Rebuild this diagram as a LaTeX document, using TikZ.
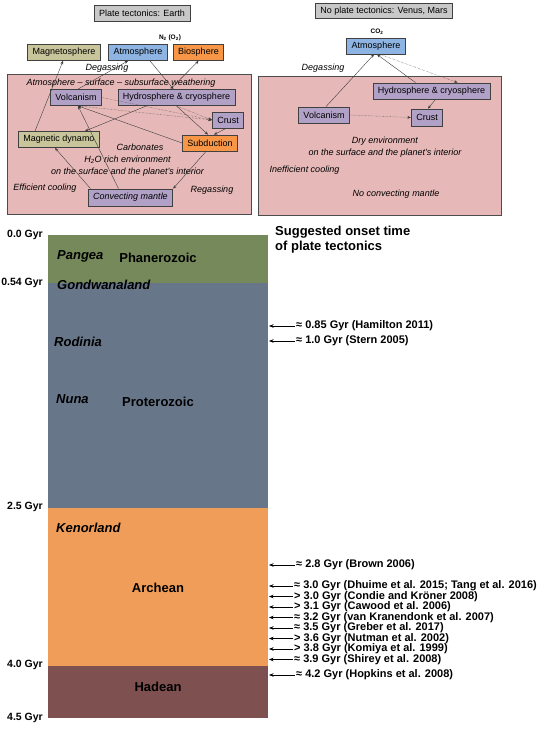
\documentclass[tikz,border=0pt]{standalone}
\usepackage{fontspec}
\setmainfont{Liberation Sans}
\usetikzlibrary{arrows.meta,positioning}
\definecolor{titlegray}{RGB}{200,200,200}
\definecolor{khaki}{RGB}{201,197,155}
\definecolor{skyblue}{RGB}{141,180,226}
\definecolor{bioorange}{RGB}{247,150,70}
\definecolor{lilac}{RGB}{178,161,199}
\definecolor{envpink}{RGB}{230,185,184}
\definecolor{phangreen}{RGB}{118,137,90}
\definecolor{protslate}{RGB}{104,118,137}
\definecolor{archorange}{RGB}{239,157,88}
\definecolor{hadbrown}{RGB}{126,80,80}
\definecolor{linkgray}{RGB}{60,60,60}
\tikzset{
    line/.style={
        line width=0.4pt, draw=linkgray
    },
    arrow/.style={
        line,
        -{Stealth[length=3.5pt, width=2.8pt]}
    },
    dotarrow/.style={
        arrow,
        densely dotted
    },
    box/.style={
        draw=black!75, line width=0.8pt, inner xsep=5pt, inner ysep=0pt,
        minimum height=16pt, font=\fontsize{9}{10}\selectfont
    },
    envbox/.style={
        draw=black!70, line width=0.8pt, fill=envpink
    },
    note/.style={
        font=\fontsize{9}{12}\selectfont\itshape, inner sep=1pt
    },
    gyr/.style={
        font=\fontsize{10.5}{12}\selectfont\bfseries, anchor=east, inner sep=1pt
    },
    era/.style={
        font=\fontsize{13}{14}\selectfont\bfseries
    },
    land/.style={
        font=\fontsize{13}{14}\selectfont\bfseries\itshape, anchor=west, inner sep=1pt
    },
    onset/.style={
        font=\fontsize{11}{12}\selectfont\bfseries, anchor=west, inner sep=1pt
    },
    onsetarrow/.style={
        line width=0.6pt, draw=black,
        -{Stealth[length=4.5pt, width=3.5pt]}
    }
}

\begin{document}
\begin{tikzpicture}[x=1pt, y=-1pt]
    \useasboundingbox (0, 0) rectangle (545, 730);
    % Plate tectonics (left panel):
    \node [box, fill=titlegray] (ptitle) at (142, 13) {Plate tectonics: Earth};
    \node [font=\fontsize{6.5}{7}\selectfont\bfseries, inner sep=0pt] (nitro) at (170, 38) {N\textsubscript{2} (O\textsubscript{2})};
    \node [box, fill=khaki] (magsph) at (64, 52.5) {Magnetosphere};
    \node [box, fill=skyblue] (atm) at (138, 52.5) {Atmosphere};
    \node [box, fill=bioorange] (bio) at (198.5, 52.5) {Biosphere};
    \node [note] (degas) at (107, 68) {Degassing};
    \draw [envbox] (7, 74) rectangle (251, 214);
    \node [note] (weather) at (121, 83) {Atmosphere -- surface -- subsurface weathering};
    \node [box, fill=lilac] (volc) at (76, 97.5) {Volcanism};
    \node [box, fill=lilac] (hydro) at (176.5, 97.5) {Hydrosphere \& cryosphere};
    \node [box, fill=lilac] (crust) at (228, 120) {Crust};
    \node [box, fill=khaki] (dynamo) at (59, 139.5) {Magnetic dynamo};
    \node [box, fill=bioorange] (subd) at (210, 143) {Subduction};
    \node [note] (carb) at (140, 147) {Carbonates};
    \node [note, align=center] (wet) at (127.5, 166.5) {H\textsubscript{2}O rich environment\\on the surface and the planet's interior};
    \node [note] (effcool) at (45, 188) {Efficient cooling};
    \node [note] (regas) at (212, 190) {Regassing};
    \node [box, fill=lilac, font=\fontsize{9}{10}\selectfont\itshape, minimum height=17pt] (mantle) at (130.5, 197.5) {Convecting mantle};
    % Links:
    \draw [arrow] ([xshift=-24pt]dynamo.north) -- ([xshift=-1pt]magsph.south);
    \draw [arrow] ([xshift=2pt]volc.north) -- ([xshift=-10pt]atm.south);
    \draw [arrow] ([xshift=12pt]atm.south) -- ([xshift=-3pt]hydro.north);
    \draw [arrow] ([xshift=-6pt]hydro.north) -- (bio.south);
    \draw [arrow] ([xshift=-12pt]mantle.north) -- ([xshift=2pt]volc.south);
    \draw [arrow] ([xshift=-40pt]mantle.north) -- ([xshift=-4pt]dynamo.south);
    \draw [arrow] ([xshift=-30pt]hydro.south) -- ([xshift=26pt]dynamo.north);
    \draw [arrow] (subd.west) -- ([xshift=2pt]volc.south);
    \draw [dotarrow] ([xshift=2pt]volc.south) -- (crust.west);
    \draw [dotarrow] (volc.east) -- (crust.west);
    \draw [dotarrow] (hydro.south) -- (crust.west);
    \draw [arrow] (hydro.south) -- ([xshift=-2pt]subd.north);
    \draw [arrow] ([xshift=-2pt]crust.south) -- ([xshift=4pt]subd.north);
    \draw [arrow] ([xshift=-4pt]subd.south) -- (mantle.north east);
    % No plate tectonics (right panel):
    \node [box, fill=titlegray, minimum height=15pt] (ntitle) at (384, 11) {No plate tectonics: Venus, Mars};
    \node [font=\fontsize{6.5}{7}\selectfont\bfseries, inner sep=0pt] (carbon) at (377, 32) {CO\textsubscript{2}};
    \node [box, fill=skyblue] (ratm) at (376, 46) {Atmosphere};
    \node [note] (rdegas) at (323, 68) {Degassing};
    \draw [envbox] (258, 76) rectangle (501, 215);
    \node [box, fill=lilac] (rhydro) at (431.5, 91) {Hydrosphere \& cryosphere};
    \node [box, fill=lilac] (rvolc) at (324, 115) {Volcanism};
    \node [box, fill=lilac, minimum height=17pt] (rcrust) at (427, 117.5) {Crust};
    \node [note, align=center] (dry) at (385, 147.5) {Dry environment\\on the surface and the planet's interior};
    \node [note] (ineff) at (304.5, 170) {Inefficient cooling};
    \node [note] (nomantle) at (396, 194) {No convecting mantle};
    % Links:
    \draw [arrow] ([xshift=2pt]rvolc.north) -- ([xshift=-2pt]ratm.south);
    \draw [arrow] ([xshift=-16pt]rhydro.north) -- ([xshift=1pt]ratm.south);
    \draw [dotarrow] ([xshift=4pt]ratm.south) -- ([xshift=26pt]rhydro.north);
    \draw [arrow] ([xshift=4pt]rhydro.south) -- ([xshift=1pt]rcrust.north);
    \draw [dotarrow] (rvolc.east) -- (rcrust.west);
    % Geological time scale:
    \fill [phangreen] (48, 235) rectangle (268, 283);
    \fill [protslate] (48, 283) rectangle (268, 508);
    \fill [archorange] (48, 508) rectangle (268, 666);
    \fill [hadbrown] (48, 666) rectangle (268, 718);
    \node [gyr] (g0) at (44, 235) {0.0 Gyr};
    \node [gyr] (g054) at (44, 283) {0.54 Gyr};
    \node [gyr] (g25) at (44, 507) {2.5 Gyr};
    \node [gyr] (g40) at (44, 665) {4.0 Gyr};
    \node [gyr] (g45) at (44, 718) {4.5 Gyr};
    \node [land] (pangea) at (56, 256) {Pangea};
    \node [era] (phan) at (158, 258) {Phanerozoic};
    \node [land] (gondwana) at (56, 285) {Gondwanaland};
    \node [land] (rodinia) at (53, 342) {Rodinia};
    \node [land] (nuna) at (55, 399) {Nuna};
    \node [era] (prot) at (158, 402) {Proterozoic};
    \node [land] (kenor) at (55, 528) {Kenorland};
    \node [era] (arch) at (158, 588) {Archean};
    \node [era] (had) at (158, 687) {Hadean};
    % Onset of plate tectonics:
    \node [font=\fontsize{13}{15}\selectfont\bfseries, align=left, anchor=west, inner sep=1pt] (sugg) at (274, 239.5) {Suggested onset time\\of plate tectonics};
    \coordinate (edge) at (269, 0);
    \node [onset] (hamilton) at (295, 326) {≈ 0.85 Gyr (Hamilton 2011)};
    \node [onset] (stern) at (295, 341) {≈ 1.0 Gyr (Stern 2005)};
    \node [onset] (brown) at (295, 565) {≈ 2.8 Gyr (Brown 2006)};
    \node [onset] (dhuime) at (293, 586) {≈ 3.0 Gyr (Dhuime et al. 2015; Tang et al. 2016)};
    \node [onset] (condie) at (293, 596.5) {> 3.0 Gyr (Condie and Kröner 2008)};
    \node [onset] (cawood) at (293, 607) {> 3.1 Gyr (Cawood et al. 2006)};
    \node [onset] (kranen) at (293, 617.5) {≈ 3.2 Gyr (van Kranendonk et al. 2007)};
    \node [onset] (greber) at (293, 628) {≈ 3.5 Gyr (Greber et al. 2017)};
    \node [onset] (nutman) at (293, 638.5) {> 3.6 Gyr (Nutman et al. 2002)};
    \node [onset] (komiya) at (293, 649) {> 3.8 Gyr (Komiya et al. 1999)};
    \node [onset] (shirey) at (293, 659.5) {≈ 3.9 Gyr (Shirey et al. 2008)};
    \node [onset] (hopkins) at (295, 675) {≈ 4.2 Gyr (Hopkins et al. 2008)};
    \draw [onsetarrow] (hamilton.west) -- (hamilton.west -| edge);
    \draw [onsetarrow] (stern.west) -- (stern.west -| edge);
    \draw [onsetarrow] (brown.west) -- (brown.west -| edge);
    \draw [onsetarrow] (dhuime.west) -- (dhuime.west -| edge);
    \draw [onsetarrow] (condie.west) -- (condie.west -| edge);
    \draw [onsetarrow] (cawood.west) -- (cawood.west -| edge);
    \draw [onsetarrow] (kranen.west) -- (kranen.west -| edge);
    \draw [onsetarrow] (greber.west) -- (greber.west -| edge);
    \draw [onsetarrow] (nutman.west) -- (nutman.west -| edge);
    \draw [onsetarrow] (komiya.west) -- (komiya.west -| edge);
    \draw [onsetarrow] (shirey.west) -- (shirey.west -| edge);
    \draw [onsetarrow] (hopkins.west) -- (hopkins.west -| edge);
\end{tikzpicture}
\end{document}
